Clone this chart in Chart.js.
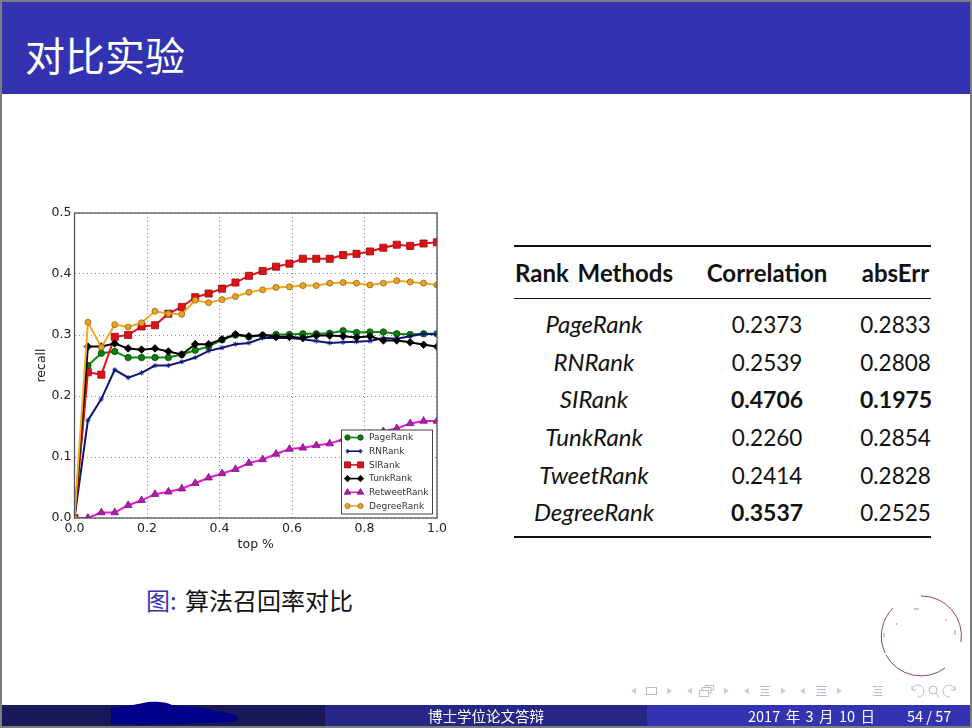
<!DOCTYPE html>
<html lang="zh">
<head>
<meta charset="UTF-8" />
<title>对比实验</title>
<script src="https://cdn.jsdelivr.net/npm/chart.js"></script>
<style>
  html, body { margin: 0; padding: 0; background: #fff; }
  body { width: 972px; height: 728px; overflow: hidden; position: relative; font-family: "Noto Sans CJK SC", sans-serif; }
  .abs { position: absolute; }
  #edge { left: 0; top: 0; width: 968px; height: 724px; border: 2px solid #7d7d7d; pointer-events: none; }
  #titlebar { left: 2px; top: 2px; width: 968px; height: 92px; background: #3333b2; }
  #title { left: 25px; top: 27px; color: #fff; font-size: 40px; line-height: 54px; }
  #chartBox { left: 20px; top: 200px; width: 430px; height: 360px; }
  #caption { left: 146px; top: 583px; font-size: 24px; line-height: 34px; color: #111; }
  #caption span { color: #3333b2; margin-right: 3px; }
  #rankTable { left: 514px; top: 245px; width: 417px; border-collapse: collapse; table-layout: fixed; border-top: 2px solid #111; border-bottom: 2px solid #111; font-family: Lato, sans-serif; font-size: 22.5px; color: #111; }
  #rankTable th { height: 51px; padding: 0; font-size: 24px; font-weight: 700; border-bottom: 1px solid #111; white-space: nowrap; }
  #rankTable th:first-child { word-spacing: 3px; }
  #rankTable td { height: 37.6px; padding: 0; text-align: center; white-space: nowrap; vertical-align: baseline; position: relative; top: 4.7px; }
  #rankTable td.name { font-style: italic; font-size: 24px; }
  #rankTable td.best { font-weight: 700; font-size: 23px; }
  #rankTable tr:nth-child(2) td { padding-top: 5.5px; }
  #rankTable tr:last-child td { padding-bottom: 6px; }
  .foot { top: 705px; height: 21px; }
  .footText { top: 705px; height: 21px; line-height: 21px; color: #fff; font-size: 14.5px; white-space: nowrap; }
</style>
</head>
<body>
<div class="abs" id="titlebar"></div>
<div class="abs" id="title">对比实验</div>

<div class="abs" id="chartBox"><canvas id="myChart" width="430" height="360"></canvas></div>

<div class="abs" id="caption"><span>图:</span> 算法召回率对比</div>
<table class="abs" id="rankTable"></table>

<!-- footer -->
<div class="abs foot" style="left:2px;width:323px;background:#191959"></div>
<div class="abs foot" style="left:325px;width:322px;background:#262686"></div>
<div class="abs foot" style="left:647px;width:323px;background:#3333b2"></div>
<svg class="abs" style="left:0;top:0" width="972" height="728">
  <!-- scribbled-out name -->
  <path d="M111 708 C125 706 135 705 143 703 C150 701 165 701 172 705 C190 706 205 708 220 712 C232 713 240 716 238 719 C235 723 215 723 195 723 C165 725 130 725 111 724 Z" fill="#00008b"/>
  <!-- seal -->
  <g fill="none" stroke="#8c3f80" stroke-width="1">
    <path d="M893 608 A40 40 0 0 0 885 653"/>
    <path d="M886 655 A40 40 0 0 0 945 668"/>
    <path d="M961 642 A40 40 0 0 0 921 596"/>
    <path d="M914 609 L919 609 M945 619 L947 621 M955 630 L955 635 M896 625 L897 623 M884 633 L884 637" stroke="#b58ab0"/>
  </g>
  <!-- navigation symbols -->
  <g fill="#c9c9e4" stroke="none">
    <path d="M636 688 L631 691 L636 694 Z"/><path d="M667 688 L672 691 L667 694 Z"/>
    <path d="M692 688 L687 691 L692 694 Z"/><path d="M724 688 L729 691 L724 694 Z"/>
    <path d="M749 688 L744 691 L749 694 Z"/><path d="M781 688 L786 691 L781 694 Z"/>
    <path d="M805 688 L800 691 L805 694 Z"/><path d="M837 688 L842 691 L837 694 Z"/>
  </g>
  <g fill="none" stroke="#b9b9dc" stroke-width="1">
    <rect x="646.5" y="687.5" width="10" height="7"/>
    <rect x="699.5" y="690.5" width="9" height="6"/><path d="M702 690 L702 687.5 L711 687.5 L711 693 L708 693 M705 687 L705 685.5 L713.5 685.5 L713.5 690 L711 690"/>
    <path d="M760 686.5 H770 M761 689.5 H769 M761 692.5 H769 M760 695.5 H770"/>
    <path d="M816 686.5 H827 M817 689.5 H826 M817 692.5 H826 M816 695.5 H827"/>
    <path d="M873 686.5 H883 M874 689.5 H882 M874 692.5 H882 M873 695.5 H883"/>
    <path d="M912 690 A6 6 0 1 1 917 697 M912 686 L912 690 L916 690"/>
    <circle cx="933" cy="690" r="4"/><path d="M936 693 L939 697"/>
    <path d="M955 690 A6 6 0 1 0 950 697 M955 686 L955 690 L951 690"/>
  </g>
</svg>
<div class="abs footText" style="left:386px;width:200px;text-align:center">博士学位论文答辩</div>
<div class="abs footText" style="left:748px;word-spacing:2.2px">2017 年 3 月 10 日</div>
<div class="abs footText" style="left:907px">54 / 57</div>
<div class="abs" id="edge"></div>

<script>
  // values
  const topPct = [0, 0.037, 0.074, 0.111, 0.148, 0.185, 0.222, 0.259, 0.296, 0.333, 0.37, 0.407, 0.444, 0.481,
                  0.519, 0.556, 0.593, 0.63, 0.667, 0.704, 0.741, 0.778, 0.815, 0.852, 0.889, 0.926, 0.963, 1.0];
  const pageRank = [0, 0.25, 0.27, 0.273, 0.263, 0.263, 0.263, 0.263, 0.268, 0.275, 0.281, 0.292, 0.3, 0.297,
                    0.299, 0.301, 0.301, 0.302, 0.302, 0.303, 0.307, 0.304, 0.305, 0.305, 0.302, 0.301, 0.302, 0.302];
  const rnRank = [0, 0.16, 0.195, 0.243, 0.23, 0.238, 0.25, 0.25, 0.256, 0.263, 0.274, 0.279, 0.285, 0.287,
                  0.295, 0.295, 0.295, 0.293, 0.29, 0.287, 0.288, 0.289, 0.29, 0.295, 0.294, 0.298, 0.302, 0.301];
  const siRank = [0, 0.239, 0.235, 0.297, 0.3, 0.314, 0.316, 0.335, 0.346, 0.362, 0.368, 0.376, 0.386, 0.397,
                  0.405, 0.412, 0.417, 0.425, 0.425, 0.425, 0.431, 0.433, 0.437, 0.443, 0.448, 0.446, 0.45, 0.452];
  const tunkRank = [0, 0.281, 0.281, 0.286, 0.278, 0.276, 0.278, 0.273, 0.268, 0.285, 0.285, 0.293, 0.301, 0.298,
                    0.3, 0.297, 0.297, 0.295, 0.299, 0.299, 0.298, 0.296, 0.298, 0.291, 0.291, 0.288, 0.284, 0.281];
  const retweetRank = [0, 0, 0.009, 0.009, 0.021, 0.029, 0.039, 0.043, 0.048, 0.057, 0.066, 0.073, 0.08, 0.09,
                       0.096, 0.105, 0.113, 0.115, 0.119, 0.122, 0.129, 0.134, 0.138, 0.142, 0.147, 0.155, 0.159, 0.159];
  const degreeRank = [0, 0.321, 0.28, 0.317, 0.313, 0.32, 0.339, 0.335, 0.334, 0.357, 0.353, 0.358, 0.363, 0.37,
                      0.374, 0.378, 0.379, 0.381, 0.381, 0.385, 0.386, 0.385, 0.382, 0.385, 0.389, 0.387, 0.385, 0.382];

  const seriesNames = ["PageRank", "RNRank", "SIRank", "TunkRank", "RetweetRank", "DegreeRank"];

  // table on the right
  const tableHeads = ["Rank Methods", "Correlation", "absErr"];
  const tableNames = ["PageRank", "RNRank", "SIRank", "TunkRank", "TweetRank", "DegreeRank"];
  const correlation = ["0.2373", "0.2539", "0.4706", "0.2260", "0.2414", "0.3537"];
  const absErr = ["0.2833", "0.2808", "0.1975", "0.2854", "0.2828", "0.2525"];
  const bestCells = ["2-1", "2-2", "5-1"];

  function buildTable() {
    const widths = [160, 186, 71];
    let html = "<colgroup>" + widths.map((w) => '<col style="width:' + w + 'px">').join("") + "</colgroup>";
    html += "<tr>" + tableHeads.map((h) => "<th>" + h + "</th>").join("") + "</tr>";
    tableNames.forEach((name, i) => {
      const c1 = bestCells.includes(i + "-1") ? ' class="best"' : "";
      const c2 = bestCells.includes(i + "-2") ? ' class="best"' : "";
      html += '<tr><td class="name">' + name + "</td><td" + c1 + ">" + correlation[i] + "</td><td" + c2 + ">" + absErr[i] + "</td></tr>";
    });
    document.getElementById("rankTable").innerHTML = html;
  }
  buildTable();

  function makeSet(label, values, line, fill, edge, style, radius, order) {
    return {
      label: label,
      data: values.map((v, i) => ({ x: topPct[i], y: v })),
      borderColor: line,
      borderWidth: 2,
      backgroundColor: fill,
      pointBackgroundColor: fill,
      pointBorderColor: edge,
      pointBorderWidth: 0.8,
      pointStyle: style,
      pointRadius: radius,
      tension: 0,
      order: order,
    };
  }

  // axes frame on all four sides, matplotlib style
  const framePlugin = {
    id: "frame",
    afterDatasetsDraw(chart) {
      const a = chart.chartArea;
      const ctx = chart.ctx;
      ctx.save();
      ctx.strokeStyle = "#555";
      ctx.lineWidth = 1.3;
      ctx.strokeRect(a.left, a.top, a.right - a.left, a.bottom - a.top);
      ctx.restore();
    },
  };

  // legend with line + marker samples, drawn over the lines
  const legendPlugin = {
    id: "boxLegend",
    afterDraw(chart) {
      const a = chart.chartArea;
      const ctx = chart.ctx;
      const left = a.right - 95.5;
      const top = a.bottom - 88;
      const w = 91;
      const h = 84;
      ctx.save();
      ctx.fillStyle = "#fff";
      ctx.strokeStyle = "#444";
      ctx.lineWidth = 1;
      ctx.fillRect(left, top, w, h);
      ctx.strokeRect(left, top, w, h);
      ctx.font = "9px 'DejaVu Sans'";
      ctx.textBaseline = "middle";
      chart.data.datasets.forEach((ds, i) => {
        const y = top + 7.5 + i * 13.7;
        ctx.strokeStyle = ds.borderColor;
        ctx.lineWidth = 1.6;
        ctx.beginPath();
        ctx.moveTo(left + 6, y);
        ctx.lineTo(left + 19, y);
        ctx.stroke();
        ctx.fillStyle = ds.pointBackgroundColor;
        ctx.strokeStyle = ds.pointBorderColor;
        ctx.lineWidth = 0.8;
        [left + 6, left + 19].forEach((x) => {
          Chart.helpers.drawPoint(ctx, { pointStyle: ds.pointStyle, radius: ds.pointRadius * 0.85, rotation: 0, borderWidth: 0.8 }, x, y);
        });
        ctx.fillStyle = "#333";
        ctx.fillText(ds.label, left + 27.5, y + 0.5);
      });
      ctx.restore();
    },
  };

  const tickFont = { family: "'DejaVu Sans'", size: 12.5 };

  new Chart(document.getElementById("myChart").getContext("2d"), {
    type: "line",
    data: {
      datasets: [
        makeSet(seriesNames[0], pageRank, "#0b8a0b", "#0b7d0b", "#0a4a0a", "circle", 3.2, 6),
        makeSet(seriesNames[1], rnRank, "#0a1478", "#0a1478", "#0a1478", "star", 2.6, 5),
        makeSet(seriesNames[2], siRank, "#e8101c", "#e01018", "#8a1010", "rect", 5, 4),
        makeSet(seriesNames[3], tunkRank, "#000000", "#000000", "#000000", "rectRot", 3.8, 3),
        makeSet(seriesNames[4], retweetRank, "#e818e0", "#b818b0", "#6a186a", "triangle", 4.4, 2),
        makeSet(seriesNames[5], degreeRank, "#f5a81e", "#eea020", "#8a6a20", "circle", 3, 1),
      ],
    },
    options: {
      responsive: false,
      animation: false,
      layout: { padding: { top: 13, right: 13, left: 0, bottom: 0 } },
      plugins: { legend: { display: false }, tooltip: { enabled: false } },
      scales: {
        x: {
          type: "linear",
          min: 0,
          max: 1,
          afterFit(scale) { scale.height = 42; },
          border: { display: false, dash: [1, 3] },
          grid: { color: "#888", lineWidth: 1, drawTicks: false },
          ticks: { stepSize: 0.2, color: "#222", font: tickFont, padding: 3, maxRotation: 0, callback: (v) => v.toFixed(1) },
          title: { display: true, text: "top %", color: "#222", font: tickFont, padding: { top: 0, bottom: 8 } },
        },
        y: {
          min: 0,
          max: 0.5,
          afterFit(scale) { scale.width = 54.5; },
          border: { display: false, dash: [1, 3] },
          grid: { color: "#888", lineWidth: 1, drawTicks: false },
          ticks: { stepSize: 0.1, color: "#222", font: tickFont, padding: 3, callback: (v) => v.toFixed(1) },
          title: { display: true, text: "recall", color: "#222", font: tickFont, padding: { top: 14, bottom: 0 } },
        },
      },
    },
    plugins: [framePlugin, legendPlugin],
  });
</script>
</body>
</html>
